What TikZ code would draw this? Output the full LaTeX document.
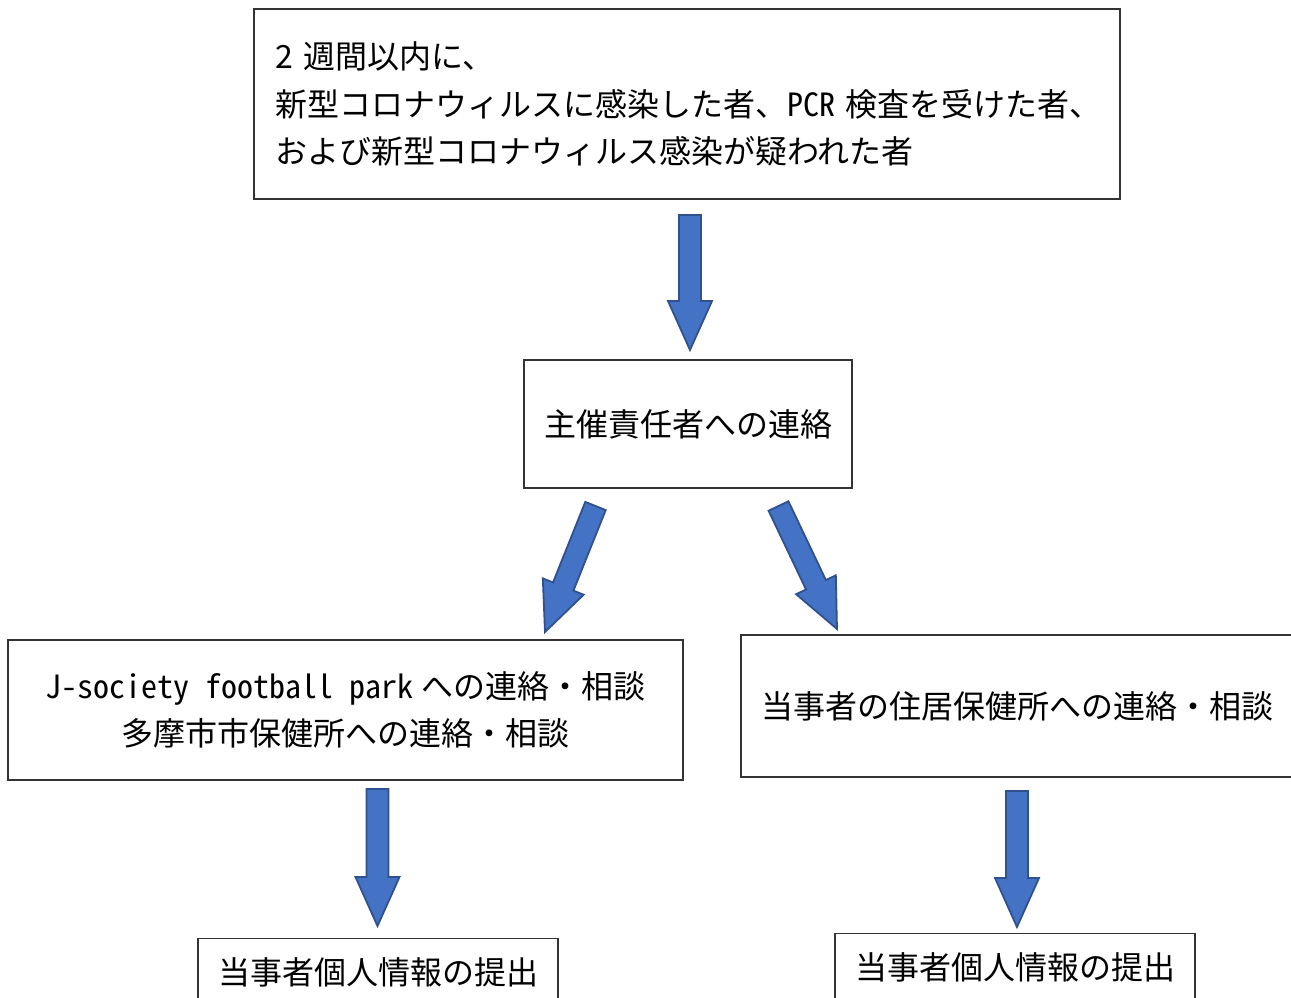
\documentclass[tikz,border=0pt]{standalone}
\usepackage{fontspec}
\setmainfont{Noto Sans CJK JP}
\newfontfamily\halfwidth[RawFeature=+hwid]{Noto Sans CJK JP}
\usetikzlibrary{calc}
\definecolor{arrowblue}{HTML}{4472C4}
\definecolor{arrowedge}{HTML}{2F528F}

\begin{document}
\begin{tikzpicture}[x=1pt,y=-1pt,
  box/.style={draw=black!80,line width=1.3pt,inner sep=0pt,
    font=\fontsize{32}{47.5}\selectfont},
  blockarrow/.style={fill=arrowblue,draw=arrowedge,line width=1.8pt,
    to path={let \p1=($(\tikztotarget)!49pt!(\tikztostart)$) in
      ($(\tikztostart)!11pt!90:(\tikztotarget)$)
      -- ($(\p1)!11pt!90:(\tikztotarget)$)
      -- ($(\p1)!22pt!90:(\tikztotarget)$)
      -- (\tikztotarget)
      -- ($(\p1)!22pt!-90:(\tikztotarget)$)
      -- ($(\p1)!11pt!-90:(\tikztotarget)$)
      -- ($(\tikztostart)!11pt!-90:(\tikztotarget)$) -- cycle}}]
  \useasboundingbox (0,0) rectangle (1291,997);
  \clip (0,0) rectangle (1291,997);

  \node[box,text width=824pt,minimum height=190pt,inner xsep=21pt,align=left]
    (cases) at (687,104)
    {2 週間以内に、\\新型コロナウィルスに感染した者、{\halfwidth PCR}~検査を受けた者、\\および新型コロナウィルス感染が疑われた者};
  \node[box,minimum width=328pt,minimum height=128pt] (host) at (688,424) {主催責任者への連絡};
  \node[box,minimum width=675pt,minimum height=140pt,align=center] (venue) at (345.5,710)
    {{\halfwidth J-society football park} への連絡・相談\\多摩市市保健所への連絡・相談};
  \node[box,minimum width=553pt,minimum height=142pt] (home) at (1017.5,706)
    {当事者の住居保健所への連絡・相談};
  \node[box,minimum width=360pt,minimum height=68pt,anchor=north] (infoL) at (378,938)
    {当事者個人情報の提出};
  \node[box,minimum width=360pt,minimum height=68pt,anchor=north] (infoR) at (1015,933)
    {当事者個人情報の提出};

  % arrow ends
  \coordinate (c1) at (690,215);   \coordinate (h1) at (690,350);
  \coordinate (c2) at (595.5,506); \coordinate (v2) at (545,632);
  \coordinate (c3) at (778.5,506); \coordinate (h3) at (837,629);
  \coordinate (v4) at (377.5,789); \coordinate (i4) at (377.5,926);
  \coordinate (h5) at (1017,791);  \coordinate (i5) at (1017,927);

  \path
    (c1) edge[blockarrow] (h1)
    (c2) edge[blockarrow] (v2)
    (c3) edge[blockarrow] (h3)
    (v4) edge[blockarrow] (i4)
    (h5) edge[blockarrow] (i5);
\end{tikzpicture}
\end{document}
